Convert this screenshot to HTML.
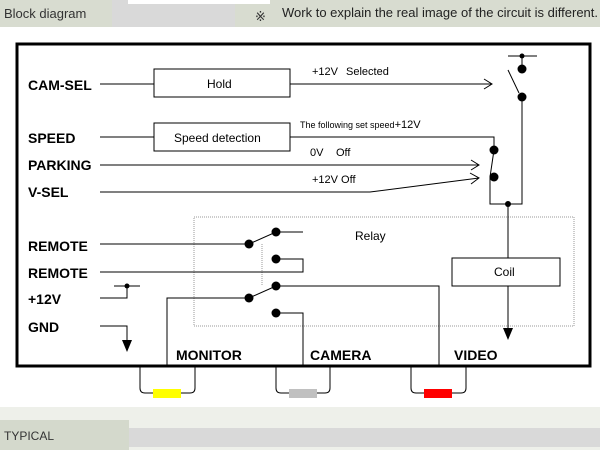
<!DOCTYPE html>
<html><head><meta charset="utf-8"><style>
body{margin:0;width:600px;height:450px;overflow:hidden;background:#fff}
svg{display:block}
.l{font-family:"Liberation Sans",Arial,sans-serif;font-weight:bold;font-size:14px}
.s{font-family:"Liberation Sans",Arial,sans-serif;font-size:11px}
</style></head><body>
<svg width="600" height="450" xmlns="http://www.w3.org/2000/svg">
<rect x="0" y="0" width="600" height="27" fill="#d8dcd0"/>
<rect x="112" y="0" width="123" height="27" fill="#d9d9d9"/>
<rect x="128" y="0" width="142" height="4" fill="#fff"/>
<text x="4" y="18" font-family="Liberation Sans,sans-serif" font-size="13" fill="#333">Block diagram</text>
<text x="255" y="21" font-family="DejaVu Sans,sans-serif" font-size="13" fill="#333">※</text>
<text x="282" y="17" font-family="Liberation Sans,sans-serif" font-size="13" fill="#222">Work to explain the real image of the circuit is different.</text>

<rect x="17" y="44" width="573" height="322" fill="#fff" stroke="#000" stroke-width="3"/>
<g stroke="#000" stroke-width="1" fill="none">
<rect x="154" y="69" width="136" height="28"/>
<rect x="154" y="123" width="136" height="28"/>
<rect x="194" y="217" width="380" height="109" stroke="#999" stroke-dasharray="1,1"/>
<line x1="262" y1="244" x2="262" y2="285" stroke="#999" stroke-dasharray="1,1"/>
<path d="M100 84H154M290 84H492M484 79L492 84L484 89"/>
<path d="M100 137H154M290 137H494V150"/>
<path d="M100 165H479M471 160L479 165L471 170"/>
<path d="M100 192H370L479 178M470 173L479 178L471 184"/>
<path d="M494 150L490 177V204H522V97M508 70L519 93M522 56V69M508 56H537"/>
<path d="M508 204V338"/>
<rect x="452" y="258" width="108" height="28" fill="#fff"/>
<path d="M100 244H249L276 232H303M276 259H303V272H100"/>
<path d="M100 298H127V286M114 286H140"/>
<path d="M167 366V298H249L276 286H439V366M276 313H303V366"/>
<path d="M100 326H127V340"/>
<path d="M140 366V388Q140 393 145 393H190Q195 393 195 388V366"/>
<path d="M276 366V388Q276 393 281 393H325Q330 393 330 388V366"/>
<path d="M411 366V388Q411 393 416 393H461Q466 393 466 388V366"/>
</g>
<g fill="#000">
<circle cx="522" cy="56" r="2.5"/><circle cx="522" cy="69" r="4.5"/><circle cx="522" cy="97" r="4.5"/>
<circle cx="494" cy="150" r="4.5"/><circle cx="494" cy="177" r="4.5"/><circle cx="508" cy="204" r="3"/>
<circle cx="249" cy="244" r="4.5"/><circle cx="276" cy="232" r="4.5"/><circle cx="276" cy="259" r="4.5"/>
<circle cx="249" cy="298" r="4.5"/><circle cx="276" cy="286" r="4.5"/><circle cx="276" cy="313" r="4.5"/>
<circle cx="127" cy="286" r="2.5"/>
<path d="M122 340H132L127 352Z"/><path d="M503 328H513L508 340Z"/>
</g>
<rect x="153" y="389" width="28" height="9" fill="#ffff00"/>
<rect x="289" y="389" width="28" height="9" fill="#c0c0c0"/>
<rect x="424" y="389" width="28" height="9" fill="#ff0000"/>
<g class="l">
<text x="28" y="90">CAM-SEL</text><text x="28" y="143">SPEED</text><text x="28" y="170">PARKING</text><text x="28" y="197">V-SEL</text>
<text x="28" y="251">REMOTE</text><text x="28" y="278">REMOTE</text><text x="28" y="304">+12V</text><text x="28" y="332">GND</text>
<text x="176" y="360">MONITOR</text><text x="310" y="360">CAMERA</text><text x="454" y="360">VIDEO</text>
</g>
<g class="s">
<text x="207" y="88" font-size="12">Hold</text><text x="174" y="142" font-size="12">Speed detection</text><text x="494" y="276" font-size="12">Coil</text>
<text x="355" y="240" font-size="12">Relay</text>
<text x="312" y="75">+12V</text><text x="346" y="75">Selected</text>
<text x="300" y="128" font-size="9">The following set speed<tspan font-size="11">+12V</tspan></text>
<text x="310" y="156">0V</text><text x="336" y="156">Off</text><text x="312" y="183">+12V Off</text>
</g>
<rect x="0" y="407" width="600" height="43" fill="#eef0ea"/>
<rect x="129" y="428" width="471" height="19" fill="#d9d9d9"/>
<rect x="0" y="420" width="129" height="30" fill="#d4d9cc"/>
<text x="4" y="440" font-family="Liberation Sans,sans-serif" font-size="12" fill="#333">TYPICAL</text>
</svg>
</body></html>
